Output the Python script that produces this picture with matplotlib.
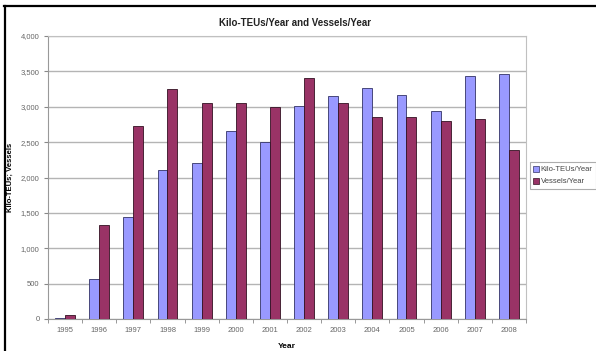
import numpy as np
import matplotlib.pyplot as plt
from matplotlib.lines import Line2D

years = ['1995', '1996', '1997', '1998', '1999', '2000', '2001',
         '2002', '2003', '2004', '2005', '2006', '2007', '2008']
kteu = [20, 570, 1440, 2100, 2200, 2660, 2500,
        3010, 3150, 3260, 3160, 2940, 3440, 3460]
vessels = [50, 1330, 2730, 3250, 3060, 3060, 2990,
           3400, 3060, 2860, 2860, 2805, 2830, 2390]

plt.rcParams['font.family'] = ['Liberation Sans', 'DejaVu Sans']

fig = plt.figure(figsize=(5.96, 3.51), dpi=100)
ax = fig.add_axes([0.0805, 0.0912, 0.802, 0.8062])

x = np.arange(len(years))
w = 0.29
ax.bar(x - w / 2, kteu, w, color='#9999ff', edgecolor='#333366',
       linewidth=0.6, label='Kilo-TEUs/Year', zorder=3)
ax.bar(x + w / 2, vessels, w, color='#993366', edgecolor='#331122',
       linewidth=0.6, label='Vessels/Year', zorder=3)

ax.set_xlim(-0.5, len(years) - 0.5)
ax.set_ylim(0, 4000)
ax.set_yticks(range(0, 4001, 500))
ax.set_yticklabels([f'{v:,}' for v in range(0, 4001, 500)])
ax.set_xticks(x)
ax.set_xticklabels(years)
ax.set_xticks(np.arange(-0.5, len(years), 1), minor=True)
ax.tick_params(axis='x', which='major', length=0, pad=6)
ax.tick_params(axis='x', which='minor', length=3, color='#888888')
ax.tick_params(axis='y', length=3, color='#888888', pad=3)
ax.tick_params(labelsize=5.5, labelcolor='#666666')

ax.yaxis.grid(True, color='#b4b4b4', linewidth=1.0, zorder=0)
for s in ax.spines.values():
    s.set_color('#c0c0c0')
    s.set_linewidth(0.8)
ax.spines['left'].set_color('#999999')
ax.spines['bottom'].set_color('#999999')

ax.set_xlabel('Year', fontsize=6, fontweight='bold', labelpad=6)
ax.set_ylabel('Kilo-TEUs; Vessels', fontsize=5.5, fontweight='bold')
ax.yaxis.set_label_coords(-0.071, 0.5)
fig.text(0.495, 0.935, 'Kilo-TEUs/Year and Vessels/Year', ha='center',
         va='center', fontsize=7, fontweight='bold', color='#222222')

handles = [Line2D([], [], marker='s', ls='', markersize=4, markerfacecolor='#9999ff',
                  markeredgecolor='#333366', markeredgewidth=0.5),
           Line2D([], [], marker='s', ls='', markersize=4, markerfacecolor='#993366',
                  markeredgecolor='#331122', markeredgewidth=0.5)]
leg = fig.legend(handles, ['Kilo-TEUs/Year', 'Vessels/Year'], loc='upper left',
                 bbox_to_anchor=(0.889, 0.538), fontsize=5.5, frameon=True,
                 fancybox=False, borderpad=0.5, handlelength=0.6,
                 handletextpad=0.3, labelspacing=0.6, borderaxespad=0)
leg.get_frame().set_edgecolor('#999999')
leg.get_frame().set_linewidth(0.8)
for t in leg.get_texts():
    t.set_color('#444444')

# black frame lines on top and left
fig.add_artist(Line2D([0.007, 0.998], [0.983, 0.983], color='black', lw=1.6))
fig.add_artist(Line2D([0.008, 0.008], [0.0, 0.983], color='black', lw=1.6))

fig.savefig('out.png', dpi=100)
